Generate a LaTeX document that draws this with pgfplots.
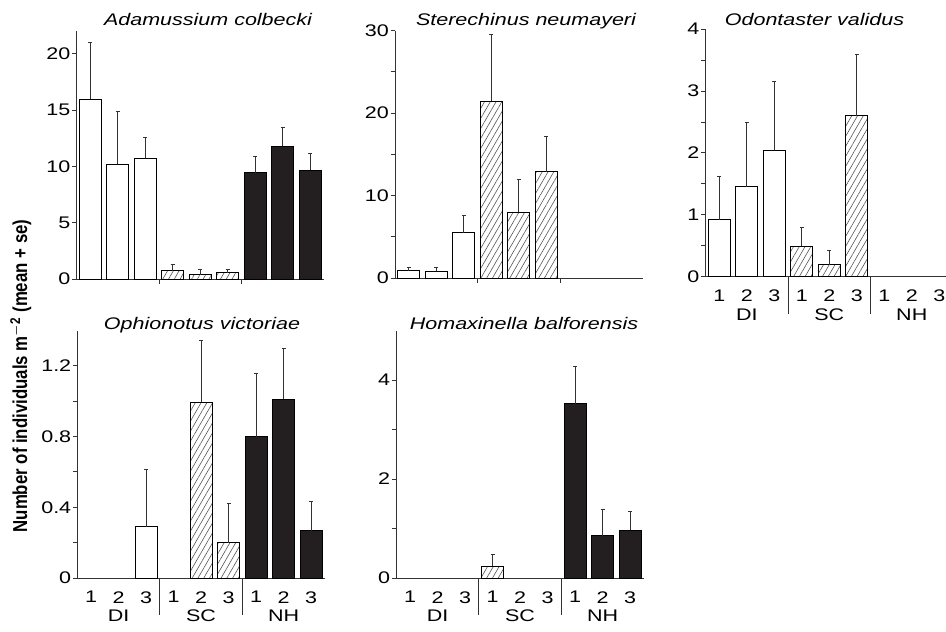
\documentclass[border=0pt]{standalone}
\usepackage{pgfplots}
\pgfplotsset{compat=1.18}
\usetikzlibrary{patterns.meta}
\usepackage{graphicx}
\usepackage{fontspec}
\setmainfont{Liberation Sans}

\definecolor{barblack}{HTML}{231F20}
\definecolor{axisgray}{HTML}{333333}
\definecolor{hatchgray}{HTML}{555555}

\newcommand{\lblfont}{\fontsize{8.4}{10}\selectfont}
% horizontally widened lettering
\newcommand{\sx}[1]{\scalebox{1.28}[1]{#1}}

\pgfplotsset{
  panel/.style={
    scale only axis, width=123.75pt, height=123.75pt,
    anchor=south west,
    xmin=0.5, xmax=9.5, ymin=0,
    axis x line*=bottom, axis y line*=left,
    axis line style={axisgray, line width=0.5pt, -},
    ybar, bar width=0.8, bar shift=0pt,
    enlargelimits=false, clip=false,
    tick align=outside, major tick length=2.25pt,
    tick style={axisgray, line width=0.5pt},
    xtick style={draw=none},
    tick label style={font=\lblfont},
    yticklabel style={inner sep=0.6pt},
    xticklabel style={inner sep=0pt, anchor=north, yshift=-4.2pt},
    error bars/y dir=plus, error bars/y explicit,
    error bars/error bar style={axisgray, line width=0.5pt},
    error bars/error mark options={rotate=90, mark size=1pt, line width=0.5pt, axisgray},
  },
  labelled x/.style={
    xtick={1,...,9},
    xticklabels={\sx{1},\sx{2},\sx{3},\sx{1},\sx{2},\sx{3},\sx{1},\sx{2},\sx{3}},
  },
  bare x/.style={xtick=\empty},
  DI/.style={draw=black, line width=0.5pt, fill=white, bar shift=0pt},
  SC/.style={draw=black, line width=0.5pt, fill=white, bar shift=0pt,
    postaction={pattern={Lines[angle=60, distance=2.5pt, line width=0.3pt]}, pattern color=hatchgray}},
  NH/.style={draw=black, line width=0.5pt, fill=barblack, bar shift=0pt},
}

% separators between sites, with the site names underneath
\newcommand{\sep}[2]{%
  \draw[axisgray, line width=0.4pt] (axis cs:#1,0) -- ([yshift=-#2]axis cs:#1,0);}
\newcommand{\sites}{%
  \sep{3.5}{18.5pt}\sep{6.5}{18.5pt}%
  \node[anchor=north, inner sep=0pt, font=\lblfont] at ([yshift=-15.8pt]axis cs:2,0) {\sx{DI}};
  \node[anchor=north, inner sep=0pt, font=\lblfont] at ([yshift=-15.8pt]axis cs:5,0) {\sx{SC}};
  \node[anchor=north, inner sep=0pt, font=\lblfont] at ([yshift=-15.8pt]axis cs:8,0) {\sx{NH}};
}
\newcommand{\shortsites}{\sep{3.5}{2.5pt}\sep{6.5}{2.5pt}}

\begin{document}
\begin{tikzpicture}[font=\lblfont]
\useasboundingbox (0,0) rectangle (473pt,-315.5pt);

% Adamussium colbecki
\begin{axis}[panel, bare x, at={(38.25pt,-139.5pt)},
  ymax=22, ytick={0,5,10,15,20}, yticklabels={\sx{0},\sx{5},\sx{10},\sx{15},\sx{20}}]
  \addplot[DI] coordinates {(1,16.0) +- (0,5.0) (2,10.2) +- (0,4.65) (3,10.75) +- (0,1.85)};
  \addplot[SC] coordinates {(4,0.75) +- (0,0.5) (5,0.38) +- (0,0.48) (6,0.56) +- (0,0.3)};
  \addplot[NH] coordinates {(7,9.43) +- (0,1.42) (8,11.8) +- (0,1.66) (9,9.67) +- (0,1.51)};
  \shortsites
\end{axis}

% Sterechinus neumayeri
\begin{axis}[panel, bare x, at={(197.5pt,-139pt)},
  ymax=30, ytick={0,5,...,30}, yticklabels={\sx{0},,\sx{10},,\sx{20},,\sx{30}}]
  \addplot[DI] coordinates {(1,0.89) +- (0,0.44) (2,0.8) +- (0,0.45) (3,5.5) +- (0,2.1)};
  \addplot[SC] coordinates {(4,21.45) +- (0,8.05) (5,7.98) +- (0,4.02) (6,12.9) +- (0,4.3)};
  \shortsites
\end{axis}

% Odontaster validus
\begin{axis}[panel, labelled x, at={(352.75pt,-138.35pt)},
  ymax=4, ytick={0,0.5,...,4}, yticklabels={\sx{0},,\sx{1},,\sx{2},,\sx{3},,\sx{4}}]
  \addplot[DI] coordinates {(1,0.92) +- (0,0.7) (2,1.45) +- (0,1.04) (3,2.04) +- (0,1.11)};
  \addplot[SC] coordinates {(4,0.49) +- (0,0.3) (5,0.195) +- (0,0.225) (6,2.6) +- (0,0.99)};
  \sites
\end{axis}

% Ophionotus victoriae
\begin{axis}[panel, labelled x, at={(38.65pt,-289pt)},
  ymax=1.4, ytick={0,0.2,...,1.2}, yticklabels={\sx{0},,\sx{0.4},,\sx{0.8},,\sx{1.2}}]
  \addplot[DI] coordinates {(3,0.289) +- (0,0.323)};
  \addplot[SC] coordinates {(5,0.993) +- (0,0.352) (6,0.2) +- (0,0.224)};
  \addplot[NH] coordinates {(7,0.8) +- (0,0.359) (8,1.012) +- (0,0.285) (9,0.266) +- (0,0.164)};
  \sites
\end{axis}

% Homaxinella balforensis
\begin{axis}[panel, labelled x, at={(198.15pt,-289pt)},
  ymax=5, ytick={0,1,...,4}, yticklabels={\sx{0},,\sx{2},,\sx{4}}]
  \addplot[SC] coordinates {(4,0.24) +- (0,0.245)};
  \addplot[NH] coordinates {(7,3.52) +- (0,0.75) (8,0.855) +- (0,0.535) (9,0.96) +- (0,0.38)};
  \sites
\end{axis}

% panel titles
\begin{scope}[every node/.style={anchor=base, inner sep=0pt, font=\lblfont\itshape}]
  \node at (104pt,-12.85pt) {\sx{Adamussium colbecki}};
  \node at (263pt,-13pt) {\sx{Sterechinus neumayeri}};
  \node at (407.25pt,-13pt) {\sx{Odontaster validus}};
  \node at (101pt,-164.65pt) {\sx{Ophionotus victoriae}};
  \node at (262pt,-164.65pt) {\sx{Homaxinella balforensis}};
\end{scope}

% common y-axis label
\node[rotate=90, anchor=base, inner sep=0pt, font=\lblfont\bfseries]
  at (13.5pt,-188pt) {\scalebox{1}[1.2]{Number of individuals m$^{\mathbf{-2}}$ (mean + se)}};
\end{tikzpicture}
\end{document}
